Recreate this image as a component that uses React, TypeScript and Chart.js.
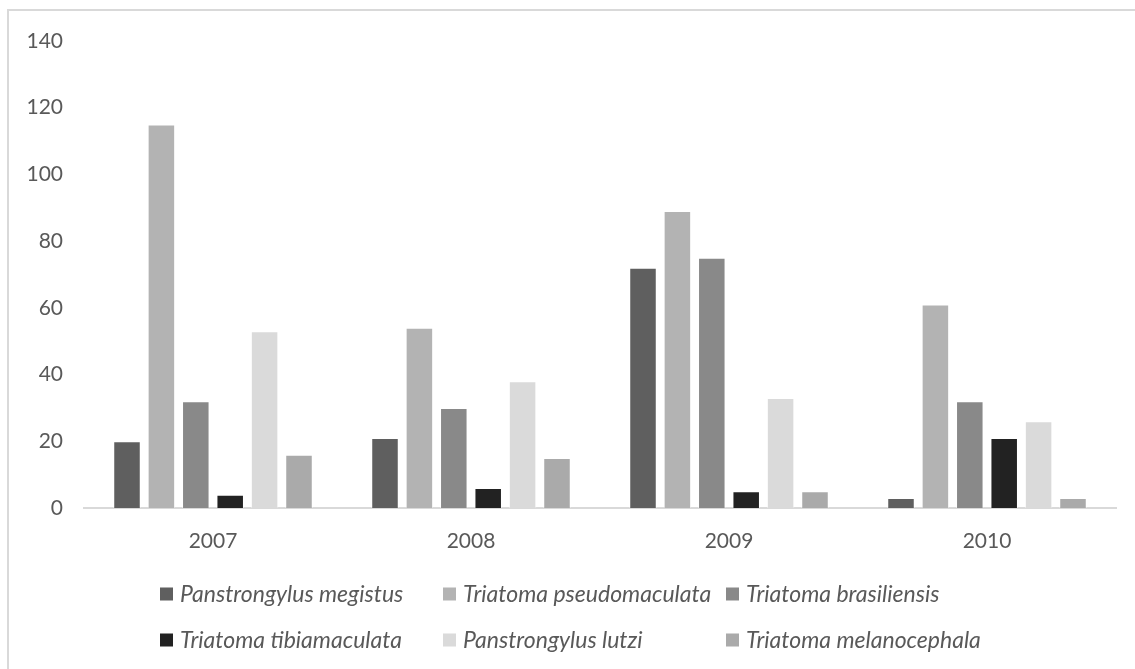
import React, { useEffect, useRef } from "react";
import { Chart, registerables } from "chart.js";

Chart.register(...registerables);

const years = ["2007", "2008", "2009", "2010"];
const speciesNames = [
  "Panstrongylus megistus",
  "Triatoma pseudomaculata",
  "Triatoma brasiliensis",
  "Triatoma tibiamaculata",
  "Panstrongylus lutzi",
  "Triatoma melanocephala",
];
const megistus = [20, 21, 72, 3];
const pseudomaculata = [115, 54, 89, 61];
const brasiliensis = [32, 30, 75, 32];
const tibiamaculata = [4, 6, 5, 21];
const lutzi = [53, 38, 33, 26];
const melanocephala = [16, 15, 5, 3];
const seriesValues = [megistus, pseudomaculata, brasiliensis, tibiamaculata, lutzi, melanocephala];
const seriesColors = ["#5f5f5f", "#b3b3b3", "#898989", "#222222", "#dadada", "#aaaaaa"];
const yTicks = [0, 20, 40, 60, 80, 100, 120, 140];

const TEXT_COLOR = "#595959";
const FONT = "Lato, 'Open Sans', sans-serif";

const legendPlugin = {
  id: "gridLegend",
  afterDraw(chart: any) {
    const ctx = chart.ctx;
    const cols = [160, 443, 726];
    const rows = [594, 640];
    const box = 13;
    ctx.save();
    ctx.font = `italic 23px ${FONT}`;
    ctx.textBaseline = "middle";
    ctx.textAlign = "left";
    chart.data.datasets.forEach((ds: any, i: number) => {
      const cx = cols[i % 3];
      const cy = rows[Math.floor(i / 3)];
      ctx.fillStyle = ds.backgroundColor;
      ctx.fillRect(cx, cy - box / 2, box, box);
      ctx.fillStyle = TEXT_COLOR;
      ctx.fillText(ds.label, cx + 20, cy + 1);
    });
    ctx.restore();
  },
};

export default function App() {
  const ref = useRef<HTMLCanvasElement | null>(null);
  useEffect(() => {
    if (!ref.current) return;
    const chart = new Chart(ref.current, {
      type: "bar",
      data: {
        labels: years,
        datasets: speciesNames.map((name, i) => ({
          label: name,
          data: seriesValues[i],
          backgroundColor: seriesColors[i],
          borderColor: "rgba(255,255,255,0.5)",
          borderWidth: 1,
          categoryPercentage: 0.8,
          barPercentage: 0.8,
        })),
      },
      options: {
        responsive: false,
        animation: false,
        layout: { padding: { left: 0, right: 19, top: 41, bottom: 0 } },
        plugins: {
          legend: { display: false },
          tooltip: { enabled: false },
        },
        scales: {
          x: {
            grid: { display: false, drawTicks: false },
            border: { display: true, color: "#d9d9d9", width: 2 },
            ticks: { color: TEXT_COLOR, font: { family: FONT, size: 21 }, padding: 21 },
            afterFit: (scale: any) => {
              scale.height = 161;
            },
          },
          y: {
            min: 0,
            max: 140,
            grid: { display: false, drawTicks: false },
            border: { display: false },
            afterBuildTicks: (scale: any) => {
              scale.ticks = yTicks.map((v) => ({ value: v }));
            },
            ticks: { color: TEXT_COLOR, font: { family: FONT, size: 21 }, padding: 21 },
            afterFit: (scale: any) => {
              scale.width = 84;
            },
          },
        },
      },
      plugins: [legendPlugin],
    });
    return () => chart.destroy();
  }, []);
  return (
    <div
      style={{
        position: "fixed",
        left: 0,
        top: 0,
        width: 1135,
        height: 669,
        background: "#ffffff",
        overflow: "hidden",
      }}
    >
      <div
        style={{
          position: "absolute",
          left: 7,
          top: 9,
          right: 0,
          bottom: 0,
          borderTop: "2px solid #d9d9d9",
          borderLeft: "2px solid #d9d9d9",
        }}
      />
      <canvas ref={ref} width={1135} height={669} style={{ position: "absolute", left: 0, top: 0 }} />
    </div>
  );
}
